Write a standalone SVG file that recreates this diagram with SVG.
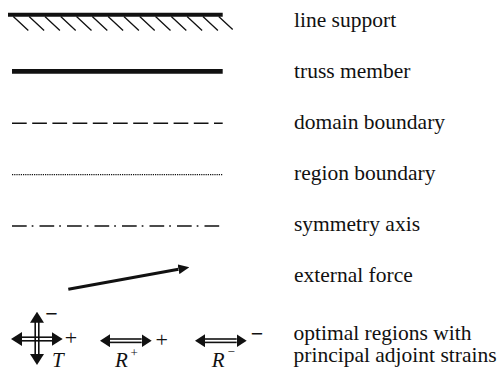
<svg xmlns="http://www.w3.org/2000/svg" width="501" height="372" viewBox="0 0 501 372">
<style>
.lbl{font-family:"Liberation Serif","Times New Roman",serif;font-size:21.5px;fill:#111}
.sym{font-family:"Liberation Serif","Times New Roman",serif;fill:#111}
.it{font-style:italic}
.ln{stroke:#111;fill:none}
.thin{stroke:#111;stroke-width:1.6;fill:none}
</style>
<defs>
<marker id="ah" markerUnits="userSpaceOnUse" viewBox="0 0 10 13" refX="10" refY="6.5" markerWidth="10" markerHeight="13" orient="auto-start-reverse"><path d="M0,0L10,6.5L0,13z" fill="#111"/></marker>
<marker id="ahT" markerUnits="userSpaceOnUse" viewBox="0 0 11 14" refX="11" refY="7" markerWidth="11" markerHeight="14" orient="auto-start-reverse"><path d="M0,0L11,7L0,14z" fill="#111"/></marker>
<marker id="fh" markerUnits="userSpaceOnUse" viewBox="0 0 11 10" refX="0" refY="5" markerWidth="11" markerHeight="10" orient="auto"><path d="M0,0L11,5L0,10z" fill="#111"/></marker>
</defs>
<rect width="501" height="372" fill="#fff"/>
<g id="line-support">
<line class="ln" x1="8" y1="14.7" x2="222.7" y2="14.7" stroke-width="4"/>
<path class="ln" stroke-width="1.3" d="M13.3,16.5l15,14M29.1,16.5l15,14M44.9,16.5l15,14M60.7,16.5l15,14M76.5,16.5l15,14M92.3,16.5l15,14M108.1,16.5l15,14M123.9,16.5l15,14M139.7,16.5l15,14M155.5,16.5l15,14M171.3,16.5l15,14M187.1,16.5l15,14M202.9,16.5l15,14M218.7,16.5l14,13"/>
<text class="lbl" x="294" y="26.7">line support</text>
</g>
<g id="truss-member">
<line class="ln" x1="12" y1="71.3" x2="222.7" y2="71.3" stroke-width="4.7"/>
<text class="lbl" x="294" y="77.7">truss member</text>
</g>
<g id="domain-boundary">
<line class="ln" x1="12" y1="123.3" x2="222.7" y2="123.3" stroke-width="1.5" stroke-dasharray="14.7 5.5"/>
<text class="lbl" x="294" y="128.7">domain boundary</text>
</g>
<g id="region-boundary">
<line class="ln" x1="12" y1="174.7" x2="222.7" y2="174.7" stroke-width="1.2" stroke-dasharray="1.2 1"/>
<text class="lbl" x="294" y="179.7">region boundary</text>
</g>
<g id="symmetry-axis">
<line class="ln" x1="12" y1="226" x2="222.7" y2="226" stroke-width="1.5" stroke-dasharray="14.7 5 1.7 6.1"/>
<text class="lbl" x="294" y="230.7">symmetry axis</text>
</g>
<g id="external-force">
<line class="ln" x1="68.3" y1="289.2" x2="178.5" y2="269.2" stroke-width="3.2" marker-end="url(#fh)"/>
<text class="lbl" x="294" y="281.7">external force</text>
</g>
<g id="optimal-regions">
<g id="T-symbol">
<line class="thin" x1="21" y1="337.2" x2="52.7" y2="337.2"/>
<line class="thin" x1="21" y1="340.8" x2="52.7" y2="340.8"/>
<line class="thin" x1="35.2" y1="321.7" x2="35.2" y2="355"/>
<line class="thin" x1="38.8" y1="321.7" x2="38.8" y2="355"/>
<path d="M11,339H62.7" stroke="none" fill="none" marker-start="url(#ahT)" marker-end="url(#ahT)"/>
<path d="M37,311.7V365" stroke="none" fill="none" marker-start="url(#ahT)" marker-end="url(#ahT)"/>
<text class="sym" x="51.5" y="320.5" font-size="22" font-weight="bold" text-anchor="middle">−</text>
<text class="sym" x="71" y="345" font-size="22" text-anchor="middle">+</text>
<text class="sym it" x="52" y="367" font-size="21">T</text>
</g>
<g id="Rplus-symbol">
<line class="thin" x1="110" y1="339" x2="141.7" y2="339"/>
<line class="thin" x1="110" y1="342.4" x2="141.7" y2="342.4"/>
<path d="M100,340.7H151.7" stroke="none" fill="none" marker-start="url(#ah)" marker-end="url(#ah)"/>
<text class="sym" x="161.7" y="347.2" font-size="22" text-anchor="middle">+</text>
<text class="sym it" x="115" y="366.7" font-size="21">R</text>
<text class="sym" x="130.5" y="357" font-size="13">+</text>
</g>
<g id="Rminus-symbol">
<line class="thin" x1="205" y1="339" x2="236.7" y2="339"/>
<line class="thin" x1="205" y1="342.4" x2="236.7" y2="342.4"/>
<path d="M195,340.7H246.7" stroke="none" fill="none" marker-start="url(#ah)" marker-end="url(#ah)"/>
<text class="sym" x="257" y="340.5" font-size="22" font-weight="bold" text-anchor="middle">−</text>
<text class="sym it" x="211.7" y="366.7" font-size="21">R</text>
<text class="sym" x="227.5" y="356" font-size="13">−</text>
</g>
<text class="lbl" x="293.5" y="340">optimal regions with</text>
<text class="lbl" x="293.5" y="361.7">principal adjoint strains</text>
</g>
<g id="connectors"/>
</svg>
